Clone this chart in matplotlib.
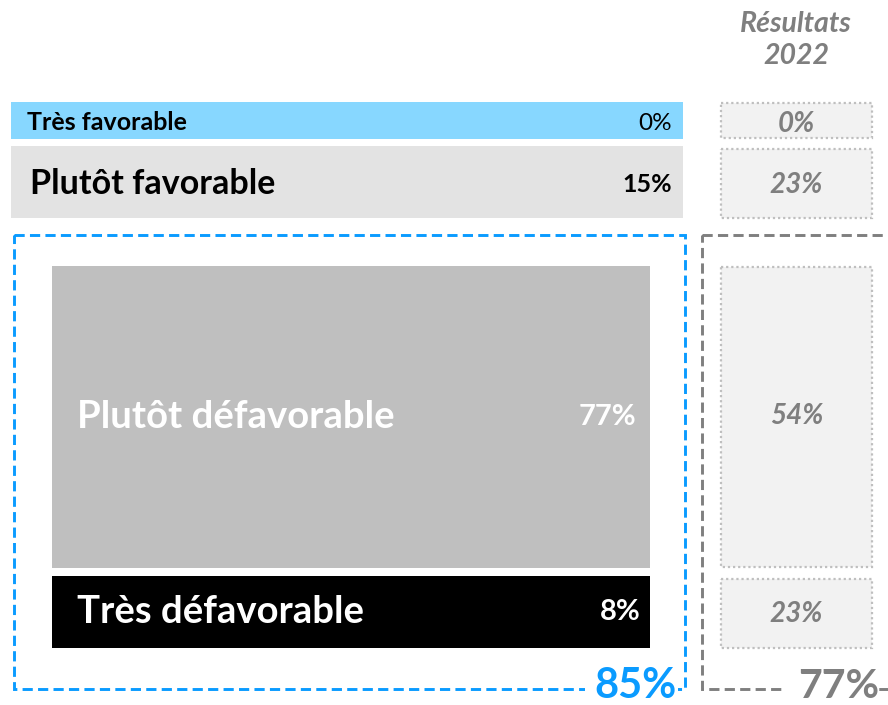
import matplotlib.pyplot as plt
from matplotlib.patches import Rectangle

plt.rcParams["font.family"] = ["Lato", "DejaVu Sans"]

# ── Data ──────────────────────────────────────────────────────────────────────
categories   = ["Très favorable", "Plutôt favorable", "Plutôt défavorable", "Très défavorable"]
values_2024  = [0, 15, 77, 8]
values_2022  = [0, 23, 54, 23]
total_label  = "85%"      # défavorable, current
total_2022   = "77%"      # défavorable, 2022
ref_title    = "Résultats\n2022"

# ── Layout (pixel coordinates, y pointing down) ───────────────────────────────
bar_boxes  = [(11, 102, 672, 37), (11, 146, 672, 72), (52, 266, 598, 302), (52, 576, 598, 72)]
bar_colors = ["#87D7FF", "#E3E3E3", "#BFBFBF", "#000000"]
txt_colors = ["#000000", "#000000", "#FFFFFF", "#FFFFFF"]
name_x     = [27, 30, 77, 77]
name_dy    = [2.5, 2.5, 0, 0]
name_size  = [18, 24.5, 27.5, 27.5]
val_right  = [672, 672, 636, 641]
val_size   = [17.5, 18, 21, 21]
val_weight = ["normal", "bold", "bold", "bold"]
ref_boxes  = [(721, 103, 151, 35), (721, 149, 151, 69), (721, 267, 151, 300), (721, 579, 151, 69)]
ref_dy     = [3, 1.5, -1, 0]

BLUE = "#0A9BFF"
GREY = "#7F7F7F"

fig = plt.figure(figsize=(8.88, 7.05), dpi=100)
ax = fig.add_axes([0, 0, 1, 1])
ax.set_xlim(0, 888)
ax.set_ylim(705, 0)
ax.axis("off")

# main bars
for (x, y, w, h), col, tc, nx, dy, ns, vr, vs, vw, name, v in zip(
        bar_boxes, bar_colors, txt_colors, name_x, name_dy, name_size,
        val_right, val_size, val_weight, categories, values_2024):
    ax.add_patch(Rectangle((x, y), w, h, facecolor=col, edgecolor="none", zorder=2))
    ax.text(nx, y + h / 2 + dy, name, color=tc, fontsize=ns, fontweight="bold",
            va="center", ha="left", zorder=3)
    ax.text(vr, y + h / 2 + dy, f"{v}%", color=tc, fontsize=vs, fontweight=vw,
            va="center", ha="right", zorder=3)

# 2022 reference boxes
for (x, y, w, h), dy, v in zip(ref_boxes, ref_dy, values_2022):
    ax.add_patch(Rectangle((x, y), w, h, facecolor="#F2F2F2", edgecolor="#BFBFBF",
                           linewidth=1.6, linestyle=(0, (1, 1.3)), zorder=2))
    ax.text(x + w / 2, y + h / 2 + dy, f"{v}%", color=GREY, fontsize=20,
            fontweight="bold", fontstyle="italic", va="center", ha="center", zorder=3)

ax.text(796, 40, ref_title, color=GREY, fontsize=20.5, fontweight="bold",
        fontstyle="italic", ha="center", va="center", linespacing=1.32)

# dashed grouping boxes
ax.add_patch(Rectangle((14, 235), 671, 454, facecolor="none", edgecolor=BLUE,
                       linewidth=2.1, linestyle=(0, (3.5, 1.8)), zorder=4))
ax.add_patch(Rectangle((702, 235), 200, 454, facecolor="none", edgecolor=GREY,
                       linewidth=2.1, linestyle=(0, (3.5, 1.8)), zorder=4,
                       clip_on=True))

# white gaps in the bottom dashed lines behind the totals
ax.add_patch(Rectangle((585, 682), 93, 14, facecolor="white", edgecolor="none", zorder=5))
ax.add_patch(Rectangle((784, 682), 95, 14, facecolor="white", edgecolor="none", zorder=5))

ax.text(677, 686, total_label, color=BLUE, fontsize=30, fontweight="bold",
        ha="right", va="center", zorder=6)
ax.text(879, 686, total_2022, color=GREY, fontsize=29.5, fontweight="bold",
        ha="right", va="center", zorder=6)

fig.savefig("out.png", dpi=100)
